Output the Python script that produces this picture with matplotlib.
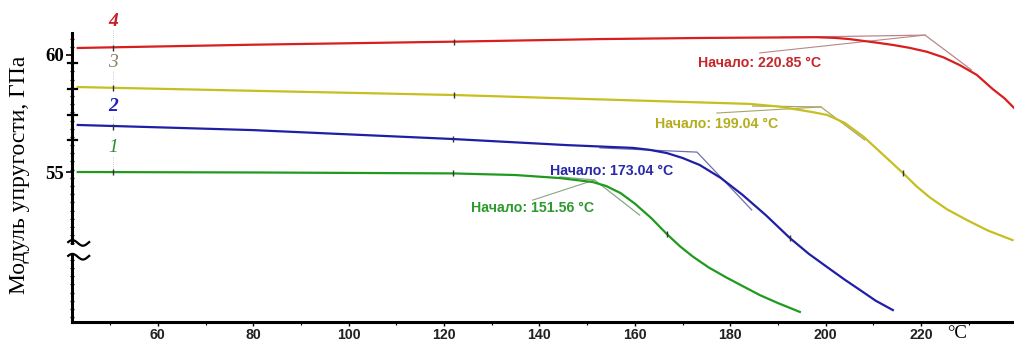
import numpy as np
import matplotlib
matplotlib.use("Agg")
import matplotlib.pyplot as plt
from matplotlib.patches import Rectangle

# ---------------- data ----------------
# curve 1 (green)
T1 = [43.2, 80, 121.8, 135, 144.3, 151.2, 154, 157, 160, 163.5, 166.7, 169.5, 172.2, 175.5,
      179.3, 186.2, 190, 194.6]
E1 = [55.00, 54.98, 54.94, 54.87, 54.74, 54.57, 54.40, 54.10, 53.65, 53.02, 52.35, 51.82, 51.38,
      50.92, 50.48, 49.74, 49.40, 49.02]
# curve 2 (blue)
T2 = [43.2, 80, 121.8, 145.7, 159.6, 163, 166.7, 170, 173.6, 178, 182.6, 187.5, 192.5,
      196.5, 200.3, 204, 207.2, 210.5, 214.1]
E2 = [57.01, 56.79, 56.41, 56.15, 56.03, 55.95, 55.81, 55.60, 55.30, 54.75, 54.02, 53.15, 52.18,
      51.50, 50.94, 50.40, 49.96, 49.50, 49.10]
# curve 3 (yellow)
T3 = [43.2, 80, 122.1, 169.4, 184.1, 190, 194.6, 197.5, 200.3, 204, 208, 212, 216.2, 219,
      221.8, 225.5, 229.6, 234, 239.2]
E3 = [58.63, 58.47, 58.29, 58.00, 57.91, 57.80, 57.65, 57.55, 57.44, 57.10, 56.50, 55.75, 54.96,
      54.40, 53.92, 53.40, 52.95, 52.50, 52.09]
# curve 4 (red)
T4 = [43.2, 80, 122.1, 152.7, 175, 198.2, 202, 205, 208, 211, 214.1, 217.5, 221.2, 224.7,
      228.1, 231.7, 235.0, 237.5, 239.5]
E4 = [60.30, 60.44, 60.57, 60.68, 60.73, 60.76, 60.73, 60.68, 60.60, 60.52, 60.43, 60.31, 60.14,
      59.90, 59.57, 59.15, 58.55, 58.15, 57.74]

curves_T = [T1, T2, T3, T4]
curves_E = [E1, E2, E3, E4]
curve_names = ["1", "2", "3", "4"]

# onset analysis
onset_T = [151.56, 173.04, 199.04, 220.85]
onset_E = [54.66, 55.85, 57.78, 60.85]
base_T = [144.3, 152.7, 184.7, 190.4]      # start of baseline tangent
base_E = [54.79, 56.03, 57.82, 60.75]
slope_T = [161.0, 184.5, 208.2, 230.6]     # end of descending tangent
slope_E = [53.16, 53.38, 56.37, 59.36]
lead_T = [138.6, None, 177.2, 186.2]       # leader line start (label)
lead_E = [53.80, None, 57.52, 60.09]
onset_label = "Начало: {:.2f} °C"

# small marks on the curves
mark_T = [[50.6, 121.8, 166.7], [50.6, 121.8, 192.5], [50.6, 122.1, 216.2], [50.6, 122.1]]
mark_E = [[55.00, 54.94, 52.35], [56.92, 56.41, 52.18], [58.59, 58.29, 54.96], [60.32, 60.57]]

x_ticks = [60, 80, 100, 120, 140, 160, 180, 200, 220]
y_ticks = [55, 60]
x_unit = "°C"
y_title = "Модуль упругости, ГПа"

# ---------------- styling ----------------
line_col = ["#1f9a1f", "#1f1fa5", "#c6bf1f", "#d81e1e"]
text_col = ["#2e9a2e", "#2a2aa8", "#b5ad1e", "#c4282c"]
tan_col = ["#86a886", "#7070aa", "#a8a468", "#b88888"]
num_col = ["#2e8a2e", "#2020c0", "#8a8060", "#c81e28"]
num_weight = ["normal", "bold", "normal", "bold"]

W, H = 1014, 345
fig = plt.figure(figsize=(W / 100, H / 100), dpi=100)
ax = fig.add_axes([72 / W, (H - 322) / H, (W - 72) / W, (322 - 33) / H])

ax.set_xlim(42.0, 239.5)
ax.set_ylim(48.59, 60.94)

for i in range(4):
    ax.plot(curves_T[i], curves_E[i], color=line_col[i], lw=1.6, zorder=3,
            solid_joinstyle="round")
    # tangents
    ax.plot([base_T[i], onset_T[i], slope_T[i]], [base_E[i], onset_E[i], slope_E[i]],
            color=tan_col[i], lw=0.9, zorder=2.5)
    if lead_T[i] is not None:
        ax.plot([lead_T[i], onset_T[i]], [lead_E[i], onset_E[i]],
                color=tan_col[i], lw=0.8, zorder=2.5)
    ax.plot(mark_T[i], mark_E[i], ls="none", marker="|", ms=5, mew=1.0,
            color="#333333", zorder=4)

# onset labels (centre positions in data units)
lab_pos = [(138.6, 53.46), (155.2, 55.04), (177.2, 57.05), (186.2, 59.66)]
for i in range(4):
    ax.text(lab_pos[i][0], lab_pos[i][1], onset_label.format(onset_T[i]),
            color=text_col[i], fontsize=10.2, fontweight="bold",
            family="Liberation Sans", ha="center", va="center", zorder=5)

# curve numbers
num_pos = [(50.6, 56.03), (50.6, 57.80), (50.6, 59.66), (50.6, 61.45)]
for i in range(4):
    ax.text(num_pos[i][0], num_pos[i][1], curve_names[i], color=num_col[i],
            fontsize=14, fontstyle="italic", fontweight=num_weight[i],
            family="Liberation Serif", ha="center", va="center", clip_on=False)
    top = num_pos[i][1] - 0.4
    bot = mark_E[i][0] + 0.1
    ax.plot([50.6, 50.6], [top, bot], color="#bbbbbb", lw=0.6, ls=":", zorder=1,
            clip_on=False)

# spines
for s in ["top", "right"]:
    ax.spines[s].set_visible(False)
ax.spines["left"].set_linewidth(2.2)
ax.spines["bottom"].set_linewidth(2.2)

# x ticks
ax.set_xticks(x_ticks)
ax.set_xticks(np.arange(50, 240, 20), minor=True)
ax.tick_params(axis="x", which="major", length=3, width=1, direction="out", pad=1.5,
               labelsize=10.2, labelcolor="#222222")
ax.tick_params(axis="x", which="minor", length=2, width=0.8, direction="out")
for lab in ax.get_xticklabels():
    lab.set_fontweight("bold")
    lab.set_family("Liberation Sans")

# y ticks
ax.set_yticks(y_ticks)
ax.set_yticklabels([str(v) for v in y_ticks])
ax.tick_params(axis="y", which="major", length=4, width=1.2, direction="out", pad=2,
               labelsize=13.5)
for lab in ax.get_yticklabels():
    lab.set_fontweight("bold")
    lab.set_family("Liberation Serif")
ax.set_yticks(list(np.arange(48.8, 60.9, 0.35)), minor=True)
ax.tick_params(axis="y", which="minor", length=3, width=0.9, direction="inout")
# medium ticks
for v in [59.65, 58.55, 57.45, 56.35]:
    ax.plot([42.0 - 0.9, 42.0 + 1.0], [v, v], color="black", lw=1.6, clip_on=False, zorder=6)

# axis break
ax.add_patch(Rectangle((40.5, 51.45), 3.0, 0.45, facecolor="white", edgecolor="none",
                       clip_on=False, zorder=7))
tt = np.linspace(41.2, 45.6, 40)
for base in [51.97, 51.38]:
    ax.plot(tt, base + 0.12 * np.sin(2 * np.pi * (tt - 41.2) / 4.4 + 0.3),
            color="black", lw=1.6, clip_on=False, zorder=8)

# unit and title
fig.text(957 / W, (H - 334) / H, x_unit, family="Liberation Serif", fontsize=13.5,
         ha="center", va="center")
fig.text(20 / W, (H - 175) / H, y_title, family="Liberation Serif", fontsize=17,
         rotation=90, ha="center", va="center")

fig.savefig("out.png", dpi=100)
